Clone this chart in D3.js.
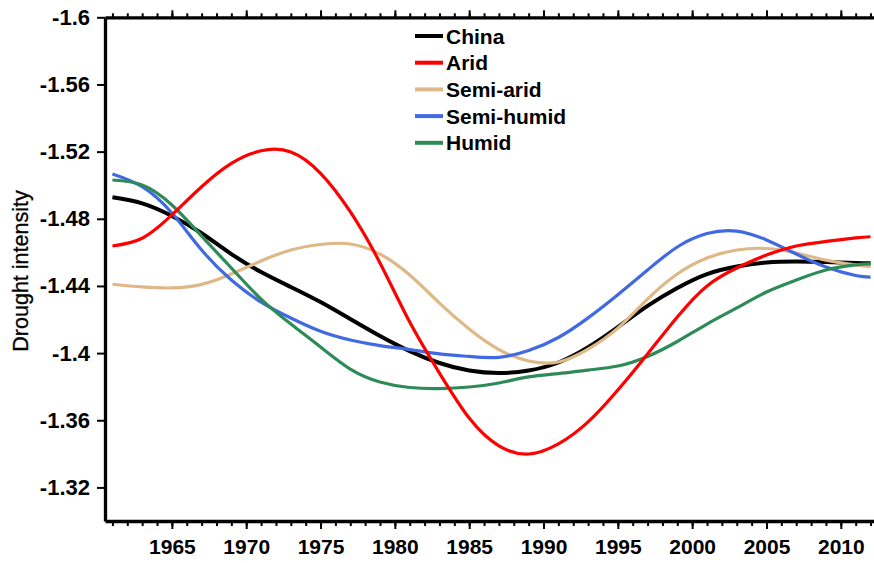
<!doctype html>
<html lang="en">
<head>
  <meta charset="utf-8">
  <title>Drought intensity</title>
  <style>
    * { margin: 0; padding: 0; box-sizing: border-box; }
    body { background: #fff; }
    svg { display: block; font-family: "Liberation Sans", Arial, sans-serif; }
    .tick text { font-size: 21px; font-weight: bold; fill: #000; }
    .yax .tick text { font-size: 22px; }
    .domain { stroke: #000; stroke-width: 3.3; }
    .tick line { stroke: #000; stroke-width: 2; }
  </style>
</head>
<body>
  <div id="container"></div>
  <script src="https://cdn.jsdelivr.net/npm/d3@7"></script>
  <script>
    const W = 874, H = 563;

    const years = [1961,1963,1965,1967,1969,1971,1973,1975,1977,1979,1981,1983,1985,1987,1989,
                   1991,1993,1995,1997,1999,2001,2003,2005,2007,2009,2011,2012];

    const china = [-1.4928,-1.4892,-1.4817,-1.4714,-1.4590,-1.4483,-1.4394,-1.4304,-1.4203,-1.4102,
                   -1.4012,-1.3941,-1.3896,-1.3881,-1.3896,-1.3944,-1.4035,-1.4155,-1.4281,-1.4388,
                   -1.4471,-1.4516,-1.4540,-1.4546,-1.4543,-1.4537,-1.4535];
    const arid = [-1.4638,-1.4684,-1.4823,-1.4991,-1.5130,-1.5205,-1.5198,-1.5071,-1.4842,-1.4537,
                  -1.4185,-1.3881,-1.3613,-1.3447,-1.3399,-1.3459,-1.3590,-1.3780,-1.3995,-1.4215,
                  -1.4400,-1.4507,-1.4584,-1.4638,-1.4665,-1.4686,-1.4693];
    const semiArid = [-1.4410,-1.4394,-1.4388,-1.4409,-1.4471,-1.4549,-1.4614,-1.4647,-1.4650,-1.4590,
                      -1.4465,-1.4298,-1.4144,-1.4021,-1.3953,-1.3947,-1.4024,-1.4149,-1.4322,-1.4471,
                      -1.4566,-1.4614,-1.4623,-1.4596,-1.4554,-1.4525,-1.4515];
    const semiHumid = [-1.5067,-1.4991,-1.4834,-1.4614,-1.4435,-1.4304,-1.4209,-1.4130,-1.4078,-1.4045,
                       -1.4021,-1.3995,-1.3980,-1.3975,-1.4015,-1.4093,-1.4210,-1.4348,-1.4495,-1.4632,
                       -1.4712,-1.4727,-1.4674,-1.4590,-1.4513,-1.4462,-1.4453];
    const humid = [-1.5031,-1.5001,-1.4882,-1.4697,-1.4507,-1.4321,-1.4173,-1.4036,-1.3905,-1.3828,
                   -1.3795,-1.3789,-1.3798,-1.3822,-1.3858,-1.3878,-1.3899,-1.3923,-1.3980,-1.4069,
                   -1.4173,-1.4269,-1.4364,-1.4435,-1.4495,-1.4525,-1.4531];

    const seriesNames = ['China','Arid','Semi-arid','Semi-humid','Humid'];
    const seriesValues = [china, arid, semiArid, semiHumid, humid];
    const seriesColors = ['#000000','#ff0000','#deb887','#4169e1','#2e8b57'];
    const seriesWidths = [4, 3.2, 3.2, 3.2, 3.2];
    const drawOrder = [0, 2, 3, 4, 1];

    const xMajor = [1965,1970,1975,1980,1985,1990,1995,2000,2005,2010];
    const xMinor = d3.range(1961, 2013);
    const yTicks = [-1.6,-1.56,-1.52,-1.48,-1.44,-1.4,-1.36,-1.32];
    const yTickLabels = ['-1.6','-1.56','-1.52','-1.48','-1.44','-1.4','-1.36','-1.32'];

    const mLeft = 105, mRight = 875, mTop = 17.3, mBottom = 521;

    const x = d3.scaleLinear().domain([1960.5, 2012.3]).range([mLeft, mRight]);
    const y = d3.scaleLinear().domain([-1.6, -1.3]).range([mTop, mBottom]);

    const svg = d3.select('#container').append('svg').attr('width', W).attr('height', H);

    // lines
    const line = d3.line().curve(d3.curveNatural)
      .x((d, i) => x(years[i])).y(d => y(d));

    const plot = svg.append('g');
    drawOrder.forEach(k => {
      plot.append('path')
        .attr('d', line(seriesValues[k]))
        .attr('fill', 'none')
        .attr('stroke', seriesColors[k])
        .attr('stroke-width', seriesWidths[k])
        .attr('stroke-linejoin', 'round');
    });

    // bottom axis: minor then major
    svg.append('g').attr('transform', `translate(0,${mBottom})`)
      .call(d3.axisBottom(x).tickValues(xMinor).tickSize(5).tickFormat(''))
      .call(g => g.select('.domain').remove());
    svg.append('g').attr('transform', `translate(0,${mBottom})`)
      .call(d3.axisBottom(x).tickValues(xMajor).tickSize(8).tickSizeOuter(0).tickPadding(10).tickFormat(d3.format('d')));

    // top axis, no labels
    svg.append('g').attr('transform', `translate(0,${mTop})`)
      .call(d3.axisTop(x).tickValues(xMinor).tickSize(4).tickFormat(''))
      .call(g => g.select('.domain').remove());
    svg.append('g').attr('transform', `translate(0,${mTop})`)
      .call(d3.axisTop(x).tickValues(xMajor).tickSize(7).tickSizeOuter(0).tickFormat(''));

    // left axis
    svg.append('g').attr('class', 'yax').attr('transform', `translate(${mLeft},0)`)
      .call(d3.axisLeft(y).tickValues(yTicks).tickSize(8).tickSizeOuter(0).tickPadding(7)
        .tickFormat((d, i) => yTickLabels[i]));

    // y title
    svg.append('text')
      .attr('transform', 'translate(28,271) rotate(-90)')
      .attr('text-anchor', 'middle')
      .style('font-size', '21.5px')
      .style('stroke', '#000').style('stroke-width', 0.3)
      .text('Drought intensity');

    // legend
    const lg = svg.append('g').attr('transform', 'translate(415,36)');
    seriesNames.forEach((name, i) => {
      const row = lg.append('g').attr('transform', `translate(0,${i * 26.7})`);
      row.append('line').attr('x1', 0).attr('x2', 28).attr('y1', 0).attr('y2', 0)
        .attr('stroke', seriesColors[i]).attr('stroke-width', 4);
      row.append('text').attr('x', 31).attr('y', 7.5)
        .style('font-size', '21px').style('font-weight', 'bold')
        .text(name);
    });
  </script>
</body>
</html>
